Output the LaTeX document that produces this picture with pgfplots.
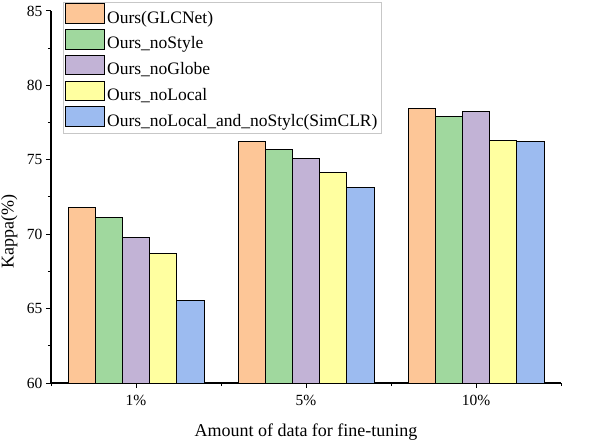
\documentclass[border=0pt]{standalone}
\usepackage{fontspec}
\setmainfont{Liberation Serif}
\usepackage{pgfplots}
\pgfplotsset{compat=1.18}
\definecolor{cA}{RGB}{253,198,151}
\definecolor{cB}{RGB}{160,216,158}
\definecolor{cC}{RGB}{194,179,214}
\definecolor{cD}{RGB}{255,255,160}
\definecolor{cE}{RGB}{156,187,240}
\begin{document}
\begin{tikzpicture}
\path[use as bounding box] (0,0) rectangle (596bp,444bp);
\begin{axis}[
  at={(51bp,61bp)}, anchor=south west,
  scale only axis, width=510bp, height=372bp,
  ybar=0pt, bar width=0.16,
  xmin=-0.5, xmax=2.5, ymin=60, ymax=85,
  axis lines*=left,
  axis line style={line width=1.2bp},
  xtick={0,1,2}, xticklabels={1\%,5\%,10\%},
  minor xtick={-0.5,0.5,1.5,2.5},
  ytick={60,65,...,85}, minor ytick={62.5,67.5,...,82.5},
  tick align=outside,
  major tick length=5bp, minor tick length=3bp,
  tick style={black, line width=1bp},
  /pgf/number format/assume math mode=true,
  tick label style={font=\fontsize{15.5bp}{18bp}\selectfont},
  xticklabel style={yshift=-4bp},
  label style={font=\fontsize{18bp}{21bp}\selectfont},
  xlabel={Amount of data for fine-tuning},
  ylabel={Kappa(\%)},
  xlabel style={at={(axis description cs:0.5,-0.145)}, anchor=base},
  ylabel style={at={(axis description cs:-0.082,0.406)}, anchor=center},
  legend style={at={(0.0235,1.024)}, anchor=north west, draw=black!22, fill=white,
    font=\fontsize{17.5bp}{21bp}\selectfont, inner xsep=2bp, inner ysep=1bp,
    row sep=0pt, nodes={inner xsep=2bp, inner ysep=1bp, text height=13.5bp, text depth=5bp},
    cells={anchor=west}},
  every axis plot/.append style={draw=black, line width=1bp},
  every axis plot post/.append style={legend image code/.code={\draw[##1] (0bp,-4.5bp) rectangle (39bp,15bp);}},
]
\addplot[fill=cA] coordinates {(0,71.81) (1,76.24) (2,78.43)};
\addplot[fill=cB] coordinates {(0,71.11) (1,75.70) (2,77.90)};
\addplot[fill=cC] coordinates {(0,69.77) (1,75.10) (2,78.23)};
\addplot[fill=cD] coordinates {(0,68.72) (1,74.13) (2,76.31)};
\addplot[fill=cE] coordinates {(0,65.56) (1,73.15) (2,76.24)};
\legend{Ours(GLCNet), Ours\_noStyle, Ours\_noGlobe, Ours\_noLocal, Ours\_noLocal\_and\_noStylc(SimCLR)}
\end{axis}
\end{tikzpicture}
\end{document}
